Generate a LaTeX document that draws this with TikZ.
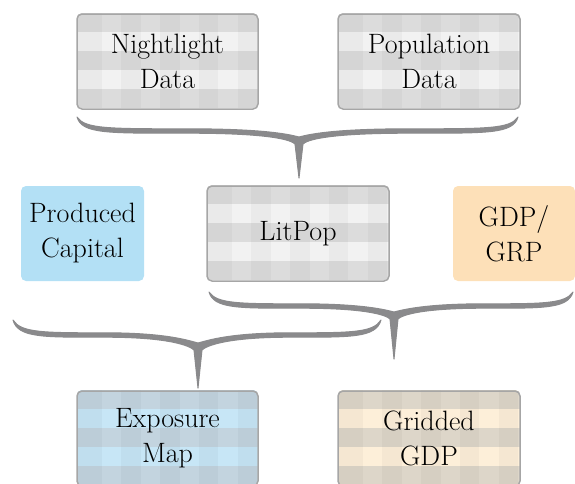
\RequirePackage{fix-cm}
\documentclass[tikz,border=0pt]{standalone}
\definecolor{bracec}{HTML}{8A8A8C}
\definecolor{framec}{HTML}{A6A6A6}
\definecolor{grayD}{HTML}{DCDCDC}
\definecolor{grayL}{HTML}{F2F2F2}
\definecolor{blueD}{HTML}{C3D4DF}
\definecolor{blueL}{HTML}{C7E6F6}
\definecolor{oranD}{HTML}{DDD6C9}
\definecolor{oranL}{HTML}{FDEFD9}
\definecolor{capfill}{HTML}{B3E0F5}
\definecolor{gdpfill}{HTML}{FDE0B8}
\newcommand\plaidfill[6]{%
  \begin{scope}
    \clip[rounded corners=5pt] (#1,#2) rectangle (#3,#4);
    \fill[#6] (#1,#2) rectangle (#3,#4);
    \foreach \k in {0,2,4}{\fill[#5] (#1,{#2+19*\k}) rectangle (#3,{#2+19*\k+19});}
    \fill[black,opacity=0.03] (#1,#2) rectangle ({#1+25},#4);
    \foreach \m in {0,...,4}{\fill[black,opacity=0.03] ({#1+44.4+38.8*\m},#2) rectangle ({#1+63.8+38.8*\m},#4);}
  \end{scope}}
\newcommand\curlybr[7]{%
  \filldraw[bracec, line width=1pt, line join=round] (#1,#3)
  .. controls ({#1+8},{#4-2.2}) and ({#1+30},{#4-2.2}) .. ({(#1+#5)/2},{#4-2.2})
  .. controls ({#5-30},{#4-2.2}) and ({#5-8},{#6-5}) .. (#5,{#6-3})
  .. controls ({#5+8},{#6-5}) and ({#5+30},{#4-2.2}) .. ({(#2+#5)/2},{#4-2.2})
  .. controls ({#2-30},{#4-2.2}) and ({#2-8},{#4-2.2}) .. (#2,#3)
  .. controls ({#2-5},{#4+3}) and ({#2-30},{#4+2.2}) .. ({(#2+#5)/2},{#4+2.2})
  .. controls ({#5+28},{#4+2.2}) and ({#5+8},{#6}) .. ({#5+4},{#6+4})
  -- (#5,#7) -- ({#5-4},{#6+4})
  .. controls ({#5-8},{#6}) and ({#5-28},{#4+2.2}) .. ({(#1+#5)/2},{#4+2.2})
  .. controls ({#1+30},{#4+2.2}) and ({#1+5},{#4+3}) .. (#1,#3) -- cycle;}
\tikzset{
  lbl/.style={align=center, font=\fontsize{28}{35}\selectfont, inner sep=0pt, text=black},
  plaidframe/.style={lbl, draw=framec, line width=1.5pt, rounded corners=5pt, minimum height=95pt},
  solidbox/.style={lbl, rounded corners=5pt, minimum height=95pt},
}
\begin{document}
\begin{tikzpicture}[x=1pt,y=-1pt]
\useasboundingbox (0,0) rectangle (575,483);
\clip (0,0) rectangle (575,483);
% plaid backgrounds
\plaidfill{77}{13}{258}{108}{grayD}{grayL}
\plaidfill{338}{13}{520}{108}{grayD}{grayL}
\plaidfill{207}{185}{389}{280}{grayD}{grayL}
\plaidfill{77}{390}{258}{485}{blueD}{blueL}
\plaidfill{338}{390}{520}{485}{oranD}{oranL}
% nodes
\node[plaidframe, minimum width=181pt] (night) at (167.5,61.5) {Nightlight\\Data};
\node[plaidframe, minimum width=182pt] (pop) at (429,61.5) {Population\\Data};
\node[solidbox, fill=capfill, minimum width=123pt] (cap) at (82.5,233.5) {Produced\\Capital};
\node[plaidframe, minimum width=182pt] (litpop) at (298,233.5) {LitPop};
\node[solidbox, fill=gdpfill, minimum width=122pt] (gdp) at (514,233.5) {GDP/\\GRP};
\node[plaidframe, minimum width=181pt] (expo) at (167.5,438.5) {Exposure\\Map};
\node[plaidframe, minimum width=182pt] (grid) at (429,438.5) {Gridded\\GDP};
% braces
\curlybr{77}{518}{117}{131}{299}{140}{178}
\curlybr{209}{573}{292}{306}{394}{315}{359}
\curlybr{13}{381}{320}{335}{198}{346}{388}
\end{tikzpicture}
\end{document}
